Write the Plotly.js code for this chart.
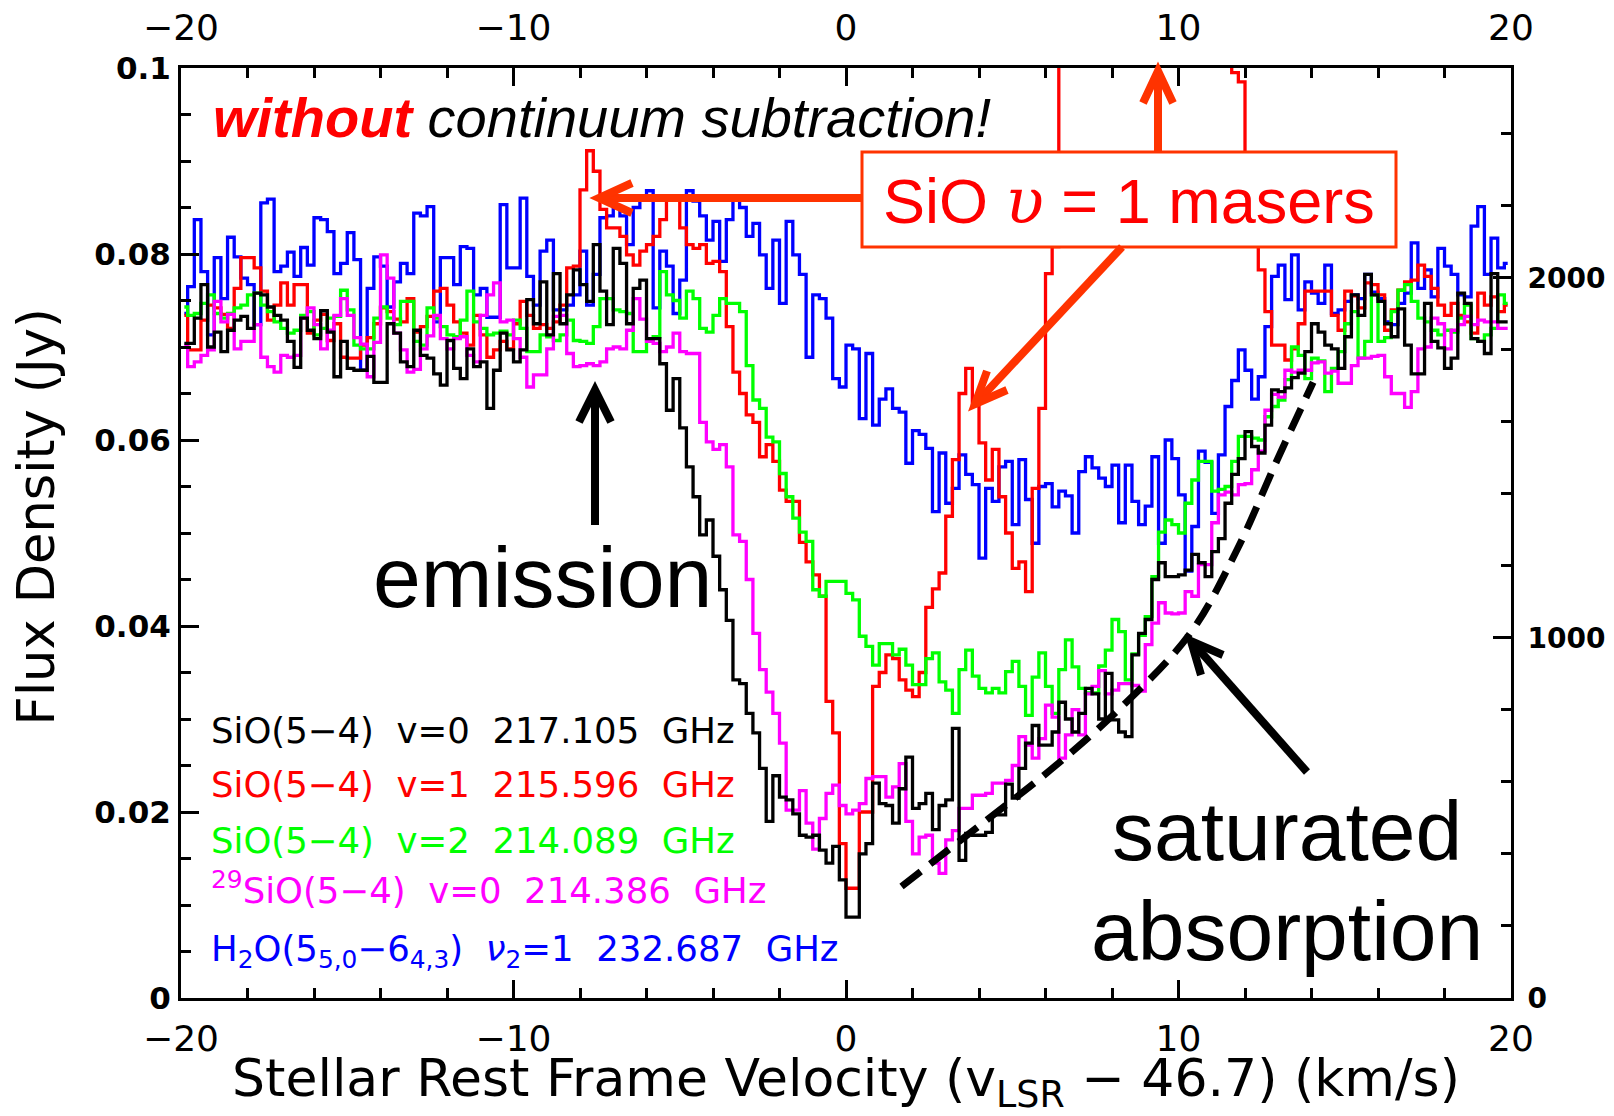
<!DOCTYPE html>
<html>
<head>
<meta charset="utf-8">
<script src="https://cdn.plot.ly/plotly-3.0.1.min.js"></script>
<style>html,body{margin:0;padding:0;background:#fff;}#chart{width:1614px;height:1116px;}</style>
</head>
<body>
<div id="chart"></div>
<script>
// Channel grid (km/s, stellar rest frame): centres of 0.2 km/s channels from -20 to +20
const V_START = -19.9;
const V_STEP = 0.2;

// SiO(5-4) v=0 217.105 GHz (black)
const sio_v0 = [
0.0704,0.0704,0.0731,0.0767,0.0700,0.0716,0.0695,0.0718,0.0729,0.0733,
0.0720,0.0758,0.0756,0.0743,0.0734,0.0729,0.0706,0.0678,0.0731,0.0718,
0.0709,0.0739,0.0716,0.0668,0.0706,0.0677,0.0675,0.0675,0.0690,0.0662,
0.0662,0.0725,0.0715,0.0684,0.0679,0.0718,0.0691,0.0688,0.0671,0.0659,
0.0707,0.0677,0.0666,0.0698,0.0679,0.0684,0.0634,0.0675,0.0715,0.0697,
0.0684,0.0697,0.0751,0.0725,0.0770,0.0713,0.0779,0.0725,0.0756,0.0783,
0.0767,0.0749,0.0810,0.0760,0.0724,0.0806,0.0790,0.0725,0.0763,0.0772,
0.0709,0.0709,0.0682,0.0632,0.0666,0.0613,0.0571,0.0539,0.0498,0.0514,
0.0475,0.0439,0.0406,0.0342,0.0338,0.0306,0.0285,0.0247,0.0190,0.0239,
0.0216,0.0213,0.0198,0.0175,0.0173,0.0175,0.0159,0.0145,0.0163,0.0127,
0.0087,0.0087,0.0155,0.0166,0.0231,0.0209,0.0207,0.0188,0.0225,0.0259,
0.0204,0.0209,0.0220,0.0181,0.0207,0.0213,0.0290,0.0148,0.0177,0.0175,
0.0175,0.0178,0.0197,0.0197,0.0230,0.0215,0.0247,0.0274,0.0293,0.0272,
0.0272,0.0286,0.0318,0.0300,0.0286,0.0306,0.0333,0.0327,0.0300,0.0349,
0.0299,0.0286,0.0281,0.0369,0.0392,0.0407,0.0450,0.0468,0.0453,0.0453,
0.0455,0.0460,0.0477,0.0468,0.0453,0.0480,0.0494,0.0532,0.0563,0.0580,
0.0609,0.0593,0.0586,0.0616,0.0654,0.0652,0.0656,0.0667,0.0672,0.0695,
0.0725,0.0716,0.0702,0.0698,0.0677,0.0711,0.0756,0.0734,0.0778,0.0756,
0.0749,0.0725,0.0711,0.0741,0.0702,0.0671,0.0671,0.0747,0.0706,0.0699,
0.0677,0.0688,0.0758,0.0747,0.0709,0.0706,0.0693,0.0779,0.0727,0.0727];

// SiO(5-4) v=1 215.596 GHz (red) - maser channels run off the top of the plot
const sio_v1 = [
0.0734,0.0697,0.0697,0.0729,0.0745,0.0742,0.0735,0.0720,0.0763,0.0796,
0.0796,0.0785,0.0760,0.0729,0.0745,0.0769,0.0745,0.0767,0.0767,0.0715,
0.0729,0.0735,0.0707,0.0725,0.0689,0.0688,0.0688,0.0702,0.0710,0.0725,
0.0742,0.0738,0.0730,0.0727,0.0752,0.0716,0.0722,0.0733,0.0760,0.0763,
0.0745,0.0727,0.0715,0.0702,0.0734,0.0713,0.0689,0.0697,0.0706,0.0698,
0.0725,0.0749,0.0734,0.0720,0.0724,0.0720,0.0727,0.0745,0.0785,0.0787,
0.0869,0.0911,0.0889,0.0848,0.0828,0.0828,0.0819,0.0799,0.0788,0.0803,
0.0810,0.0819,0.0837,0.0859,0.0860,0.0828,0.0810,0.0806,0.0810,0.0790,
0.0792,0.0781,0.0722,0.0673,0.0650,0.0627,0.0619,0.0582,0.0595,0.0577,
0.0546,0.0534,0.0534,0.0490,0.0469,0.0455,0.0432,0.0319,0.0285,0.0166,
0.0118,0.0118,0.0200,0.0200,0.0335,0.0350,0.0369,0.0365,0.0342,0.0331,
0.0324,0.0350,0.0420,0.0440,0.0457,0.0518,0.0579,0.0650,0.0677,0.0637,
0.0597,0.0557,0.0590,0.0539,0.0500,0.0462,0.0469,0.0437,0.0548,0.0634,
0.0779,0.0808,0.125,0.18,0.26,0.34,0.41,0.45,0.43,0.38,
0.33,0.29,0.27,0.26,0.27,0.30,0.34,0.36,0.33,0.28,
0.24,0.21,0.19,0.17,0.15,0.14,0.13,0.12,0.0995,0.0985,
0.0870,0.0830,0.0783,0.0738,0.0702,0.0702,0.0686,0.0698,0.0725,0.0760,
0.0760,0.0760,0.0760,0.0734,0.0718,0.0760,0.0755,0.0742,0.0769,0.0767,
0.0756,0.0718,0.0740,0.0761,0.0770,0.0772,0.0788,0.0776,0.0763,0.0745,
0.0734,0.0747,0.0734,0.0727,0.0715,0.0758,0.0745,0.0754,0.0738,0.0745];

// SiO(5-4) v=2 214.089 GHz (green)
const sio_v2 = [
0.0743,0.0734,0.0736,0.0747,0.0756,0.0736,0.0731,0.0736,0.0742,0.0745,
0.0756,0.0758,0.0745,0.0738,0.0727,0.0720,0.0715,0.0718,0.0734,0.0738,
0.0713,0.0720,0.0731,0.0733,0.0761,0.0740,0.0702,0.0698,0.0698,0.0731,
0.0743,0.0731,0.0724,0.0749,0.0749,0.0706,0.0702,0.0742,0.0731,0.0722,
0.0713,0.0711,0.0729,0.0760,0.0727,0.0720,0.0713,0.0715,0.0717,0.0713,
0.0729,0.0720,0.0695,0.0695,0.0713,0.0711,0.0707,0.0713,0.0729,0.0707,
0.0706,0.0704,0.0722,0.0752,0.0752,0.0740,0.0738,0.0736,0.0695,0.0695,
0.0706,0.0711,0.0781,0.0756,0.0750,0.0731,0.0760,0.0752,0.0720,0.0716,
0.0734,0.0752,0.0747,0.0747,0.0738,0.0680,0.0643,0.0634,0.0603,0.0598,
0.0564,0.0539,0.0516,0.0501,0.0491,0.0439,0.0432,0.0448,0.0448,0.0448,
0.0435,0.0428,0.0389,0.0378,0.0358,0.0381,0.0381,0.0369,0.0375,0.0358,
0.0337,0.0337,0.0365,0.0371,0.0340,0.0331,0.0306,0.0353,0.0374,0.0346,
0.0333,0.0328,0.0333,0.0328,0.0351,0.0362,0.0335,0.0304,0.0345,0.0371,
0.0335,0.0306,0.0353,0.0385,0.0356,0.0333,0.0328,0.0328,0.0357,0.0374,
0.0407,0.0394,0.0342,0.0370,0.0390,0.0410,0.0453,0.0501,0.0514,0.0509,
0.0500,0.0532,0.0557,0.0577,0.0577,0.0545,0.0547,0.0550,0.0577,0.0604,
0.0604,0.0602,0.0600,0.0625,0.0636,0.0643,0.0665,0.0700,0.0691,0.0666,
0.0688,0.0685,0.0652,0.0677,0.0695,0.0725,0.0738,0.0688,0.0706,0.0756,
0.0706,0.0710,0.0738,0.0761,0.0767,0.0749,0.0731,0.0727,0.0718,0.0713,
0.0718,0.0716,0.0731,0.0745,0.0709,0.0706,0.0713,0.0720,0.0756,0.0747];

// 29SiO(5-4) v=0 214.386 GHz (magenta)
const si29o_v0 = [
0.0702,0.0679,0.0684,0.0691,0.0697,0.0749,0.0727,0.0735,0.0698,0.0706,
0.0706,0.0724,0.0689,0.0679,0.0673,0.0691,0.0689,0.0691,0.0731,0.0742,
0.0724,0.0698,0.0718,0.0734,0.0752,0.0734,0.0710,0.0703,0.0668,0.0705,
0.0799,0.0774,0.0715,0.0697,0.0673,0.0676,0.0698,0.0712,0.0734,0.0709,
0.0698,0.0709,0.0711,0.0691,0.0684,0.0734,0.0756,0.0769,0.0727,0.0729,
0.0709,0.0689,0.0657,0.0670,0.0670,0.0698,0.0733,0.0734,0.0693,0.0679,
0.0680,0.0682,0.0680,0.0684,0.0698,0.0700,0.0698,0.0718,0.0752,0.0730,
0.0706,0.0704,0.0695,0.0700,0.0715,0.0695,0.0693,0.0693,0.0619,0.0598,
0.0590,0.0595,0.0571,0.0498,0.0491,0.0450,0.0392,0.0353,0.0329,0.0306,
0.0274,0.0202,0.0202,0.0223,0.0188,0.0160,0.0193,0.0220,0.0229,0.0207,
0.0198,0.0202,0.0209,0.0236,0.0238,0.0238,0.0216,0.0227,0.0252,0.0190,
0.0155,0.0173,0.0175,0.0145,0.0134,0.0170,0.0180,0.0204,0.0204,0.0218,
0.0218,0.0220,0.0231,0.0231,0.0234,0.0250,0.0281,0.0272,0.0258,0.0279,
0.0315,0.0302,0.0258,0.0283,0.0310,0.0283,0.0327,0.0335,0.0352,0.0327,
0.0331,0.0338,0.0338,0.0336,0.0330,0.0380,0.0403,0.0425,0.0414,0.0413,
0.0414,0.0437,0.0432,0.0466,0.0466,0.0511,0.0541,0.0544,0.0541,0.0552,
0.0553,0.0568,0.0588,0.0632,0.0649,0.0646,0.0675,0.0673,0.0675,0.0675,
0.0683,0.0684,0.0672,0.0674,0.0661,0.0661,0.0680,0.0688,0.0688,0.0690,
0.0691,0.0668,0.0650,0.0650,0.0635,0.0652,0.0698,0.0700,0.0731,0.0725,
0.0698,0.0718,0.0724,0.0733,0.0724,0.0729,0.0727,0.0727,0.0720,0.0720];

// H2O(5_5,0-6_4,3) v2=1 232.687 GHz (blue)
const h2o_v2 = [
0.0736,0.0765,0.0837,0.0781,0.0713,0.0796,0.0752,0.0818,0.0797,0.0774,
0.0767,0.0724,0.0855,0.0859,0.0781,0.0787,0.0802,0.0776,0.0807,0.0788,
0.0839,0.0837,0.0824,0.0779,0.0790,0.0823,0.0794,0.0675,0.0763,0.0797,
0.0787,0.0743,0.0770,0.0790,0.0779,0.0844,0.0841,0.0851,0.0727,0.0796,
0.0796,0.0767,0.0808,0.0806,0.0756,0.0763,0.0732,0.0732,0.0853,0.0785,
0.0785,0.0860,0.0776,0.0745,0.0803,0.0815,0.0740,0.0740,0.0745,0.0756,
0.0803,0.0745,0.0778,0.0839,0.0841,0.0850,0.0841,0.0810,0.0850,0.0859,
0.0868,0.0742,0.0803,0.0787,0.0736,0.0772,0.0868,0.0857,0.0841,0.0815,
0.0835,0.0792,0.0837,0.0859,0.0850,0.0819,0.0833,0.0799,0.0763,0.0815,
0.0747,0.0835,0.0799,0.0778,0.0689,0.0756,0.0752,0.0731,0.0666,0.0657,
0.0702,0.0698,0.0623,0.0693,0.0616,0.0644,0.0655,0.0634,0.0630,0.0575,
0.0610,0.0606,0.0591,0.0523,0.0586,0.0532,0.0548,0.0584,0.0563,0.0552,
0.0473,0.0548,0.0534,0.0571,0.0577,0.0509,0.0579,0.0536,0.0489,0.0550,
0.0553,0.0528,0.0545,0.0540,0.0500,0.0566,0.0582,0.0570,0.0559,0.0550,
0.0573,0.0511,0.0573,0.0534,0.0509,0.0529,0.0582,0.0489,0.0600,0.0580,
0.0541,0.0459,0.0507,0.0588,0.0576,0.0521,0.0584,0.0636,0.0664,0.0697,
0.0675,0.0644,0.0668,0.0722,0.0776,0.0788,0.0751,0.0799,0.0740,0.0770,
0.0758,0.0747,0.0788,0.0736,0.0740,0.0749,0.0756,0.0752,0.0778,0.0759,
0.0752,0.0727,0.0724,0.0747,0.0758,0.0812,0.0763,0.0783,0.0754,0.0806,
0.0787,0.0778,0.0756,0.0754,0.0830,0.0851,0.0778,0.0817,0.0785,0.0790];

// Dashed "saturated absorption" guide curve (km/s, Jy)
const sat_vel  = [1.67, 4.0, 6.14, 8.2, 10.35, 11.76, 12.96, 14.05];
const sat_flux = [0.0120, 0.0185, 0.0245, 0.0310, 0.0392, 0.0482, 0.0578, 0.0662];

// Axis ranges
const X_RANGE = [-20, 20];
const Y_RANGE = [0, 0.1];
const T_RANGE = [0, 2583];   // right-hand axis (K)

const velocity = sio_v0.map((_, i) => +(V_START + V_STEP * i).toFixed(2));

const DJ = "'DejaVu Sans', sans-serif";
const HV = "'Liberation Sans', Arial, Helvetica, sans-serif";
const ARROW_RED = '#ff3300';

function spec(y, color, name) {
  return {x: velocity, y: y, type: 'scatter', mode: 'lines', name: name,
          line: {shape: 'hvh', color: color, width: 3.3}, hoverinfo: 'skip'};
}

const traces = [
  spec(h2o_v2, '#0000ff', 'H2O v2=1 232.687 GHz'),
  spec(sio_v1, '#ff0000', 'SiO(5-4) v=1 215.596 GHz'),
  spec(sio_v2, '#00ff00', 'SiO(5-4) v=2 214.089 GHz'),
  spec(si29o_v0, '#ff00ff', '29SiO(5-4) v=0 214.386 GHz'),
  spec(sio_v0, '#000000', 'SiO(5-4) v=0 217.105 GHz'),
  {x: sat_vel, y: sat_flux, type: 'scatter', mode: 'lines', name: 'saturated absorption', xaxis: 'x2',
   line: {shape: 'spline', color: '#000', width: 7, dash: '24px,12px'}, hoverinfo: 'skip'},
  // empty trace that only binds the right-hand (K) axis so that it is drawn
  {x: [null], y: [null], type: 'scatter', mode: 'lines', yaxis: 'y2', name: 'T axis',
   hoverinfo: 'skip', showlegend: false}
];

// page-pixel -> paper helpers for annotation artwork
const L = 181, R = 1511, T = 68, B = 998;
const px = X => (X - L) / (R - L);
const py = Y => (B - Y) / (B - T);

function seg(x0, y0, x1, y1, color, w) {
  return {type: 'line', xref: 'paper', yref: 'paper', x0: px(x0), y0: py(y0), x1: px(x1), y1: py(y1),
          line: {color: color, width: w}, layer: 'above'};
}
function head(pts, color, w) {
  const d = 'M ' + pts.map(p => px(p[0]) + ',' + py(p[1])).join(' L ');
  return {type: 'path', xref: 'paper', yref: 'paper', path: d, line: {color: color, width: w}, layer: 'above'};
}

const shapes = [
  // SiO v=1 maser box
  {type: 'rect', xref: 'paper', yref: 'paper', x0: px(862), x1: px(1396), y0: py(247), y1: py(152),
   fillcolor: '#ffffff', line: {color: ARROW_RED, width: 3}, layer: 'above'},
  // left arrow
  seg(862, 198, 603, 198, ARROW_RED, 8),
  head([[632, 183], [599, 198], [632, 213]], ARROW_RED, 8),
  // up arrow
  seg(1158, 152, 1158, 74, ARROW_RED, 8),
  head([[1143, 103], [1158, 71], [1173, 103]], ARROW_RED, 8),
  // diagonal arrow
  seg(1122, 247, 978, 401, ARROW_RED, 8),
  head([[1007, 390], [975, 404], [987, 371]], ARROW_RED, 8),
  // emission arrow
  seg(595, 525, 595, 394, '#000', 8),
  head([[579, 422], [595, 390], [611, 422]], '#000', 8),
  // saturated absorption arrow
  seg(1307, 772, 1193, 643, '#000', 8),
  head([[1223, 655], [1191, 641], [1201, 675]], '#000', 8)
];

function txt(X, Y, text, size, color, family, xanchor, yanchor) {
  return {xref: 'paper', yref: 'paper', x: px(X), y: py(Y), text: text, showarrow: false,
          xanchor: xanchor || 'center', yanchor: yanchor || 'middle',
          font: {size: size, color: color, family: family}};
}
const SP = ' \u00a0';
const annotations = [
  txt(211, 118, "<span style='color:#ff0000'><b><i>without</i></b></span><i> continuum subtraction!</i>", 56, '#000', HV, 'left'),
  txt(1129, 202, "SiO <span style='font-family:\"DejaVu Serif\",\"Liberation Serif\",serif'><i>\u03c5</i></span> = 1 masers", 63, '#ff0000', HV),
  txt(542, 577, 'emission', 86, '#000', HV),
  txt(1287, 831, 'saturated', 84, '#000', HV),
  txt(1287, 931, 'absorption', 84, '#000', HV),
  txt(209, 741 - 33, 'SiO(5\u22124)' + SP + 'v=0' + SP + '217.105' + SP + 'GHz', 35.5, '#000000', DJ, 'left', 'top'),
  txt(209, 795 - 33, 'SiO(5\u22124)' + SP + 'v=1' + SP + '215.596' + SP + 'GHz', 35.5, '#ff0000', DJ, 'left', 'top'),
  txt(209, 851 - 33, 'SiO(5\u22124)' + SP + 'v=2' + SP + '214.089' + SP + 'GHz', 35.5, '#00ff00', DJ, 'left', 'top'),
  txt(209, 904 + 9, '<sup>29</sup>SiO(5\u22124)' + SP + 'v=0' + SP + '214.386' + SP + 'GHz', 35.5, '#ff00ff', DJ, 'left', 'bottom'),
  txt(209, 959 - 33, 'H<sub>2</sub>O(5<sub>5,0</sub>\u22126<sub>4,3</sub>)' + SP + '<i>\u03bd</i><sub>2</sub>=1' + SP + '232.687' + SP + 'GHz', 35.5, '#0000ff', DJ, 'left', 'top')
];

const axBase = {showline: true, linecolor: '#000', linewidth: 3, showgrid: false, zeroline: false,
                ticks: 'inside', tickwidth: 3, ticklen: 18, tickcolor: '#000'};
const minorX = {dtick: 2, ticks: 'inside', ticklen: 10, tickwidth: 3, tickcolor: '#000'};

const layout = {
  width: 1614, height: 1116,
  margin: {l: L, r: 1614 - R, t: T, b: 1116 - B, pad: 0},
  paper_bgcolor: '#fff', plot_bgcolor: '#fff',
  showlegend: false,
  xaxis: Object.assign({}, axBase, {
    range: X_RANGE, dtick: 10, tick0: 0, minor: minorX,
    tickfont: {family: DJ, size: 36, color: '#000'}, ticklabelstandoff: 7,
    title: {text: 'Stellar Rest Frame Velocity (v<sub>LSR</sub> \u2212 46.7) (km/s)',
            font: {family: DJ, size: 52, color: '#000'}, standoff: 24}
  }),
  xaxis2: Object.assign({}, axBase, {
    range: X_RANGE, dtick: 10, tick0: 0, overlaying: 'x', side: 'top', anchor: 'y', matches: 'x',
    minor: minorX,
    tickfont: {family: DJ, size: 36, color: '#000'}, ticklabelstandoff: 11
  }),
  yaxis: Object.assign({}, axBase, {
    range: Y_RANGE, dtick: 0.02, tick0: 0,
    minor: {dtick: 0.005, ticks: 'inside', ticklen: 10, tickwidth: 3, tickcolor: '#000'},
    tickfont: {family: DJ, size: 31, color: '#000', weight: 'bold'}, ticklabelstandoff: 1,
    title: {text: "<span>\u00a0\u00a0</span>Flux Density (Jy)", font: {family: DJ, size: 51, color: '#000'}, standoff: 24}
  }),
  yaxis2: Object.assign({}, axBase, {
    range: T_RANGE, dtick: 1000, tick0: 0, overlaying: 'y', side: 'right', anchor: 'x',
    minor: {dtick: 200, ticks: 'inside', ticklen: 10, tickwidth: 3, tickcolor: '#000'},
    tickfont: {family: DJ, size: 28, color: '#000', weight: 'bold'}, ticklabelstandoff: 8
  }),
  shapes: shapes,
  annotations: annotations
};

Plotly.newPlot('chart', traces, layout, {displayModeBar: false, staticPlot: true});
</script>
</body>
</html>
